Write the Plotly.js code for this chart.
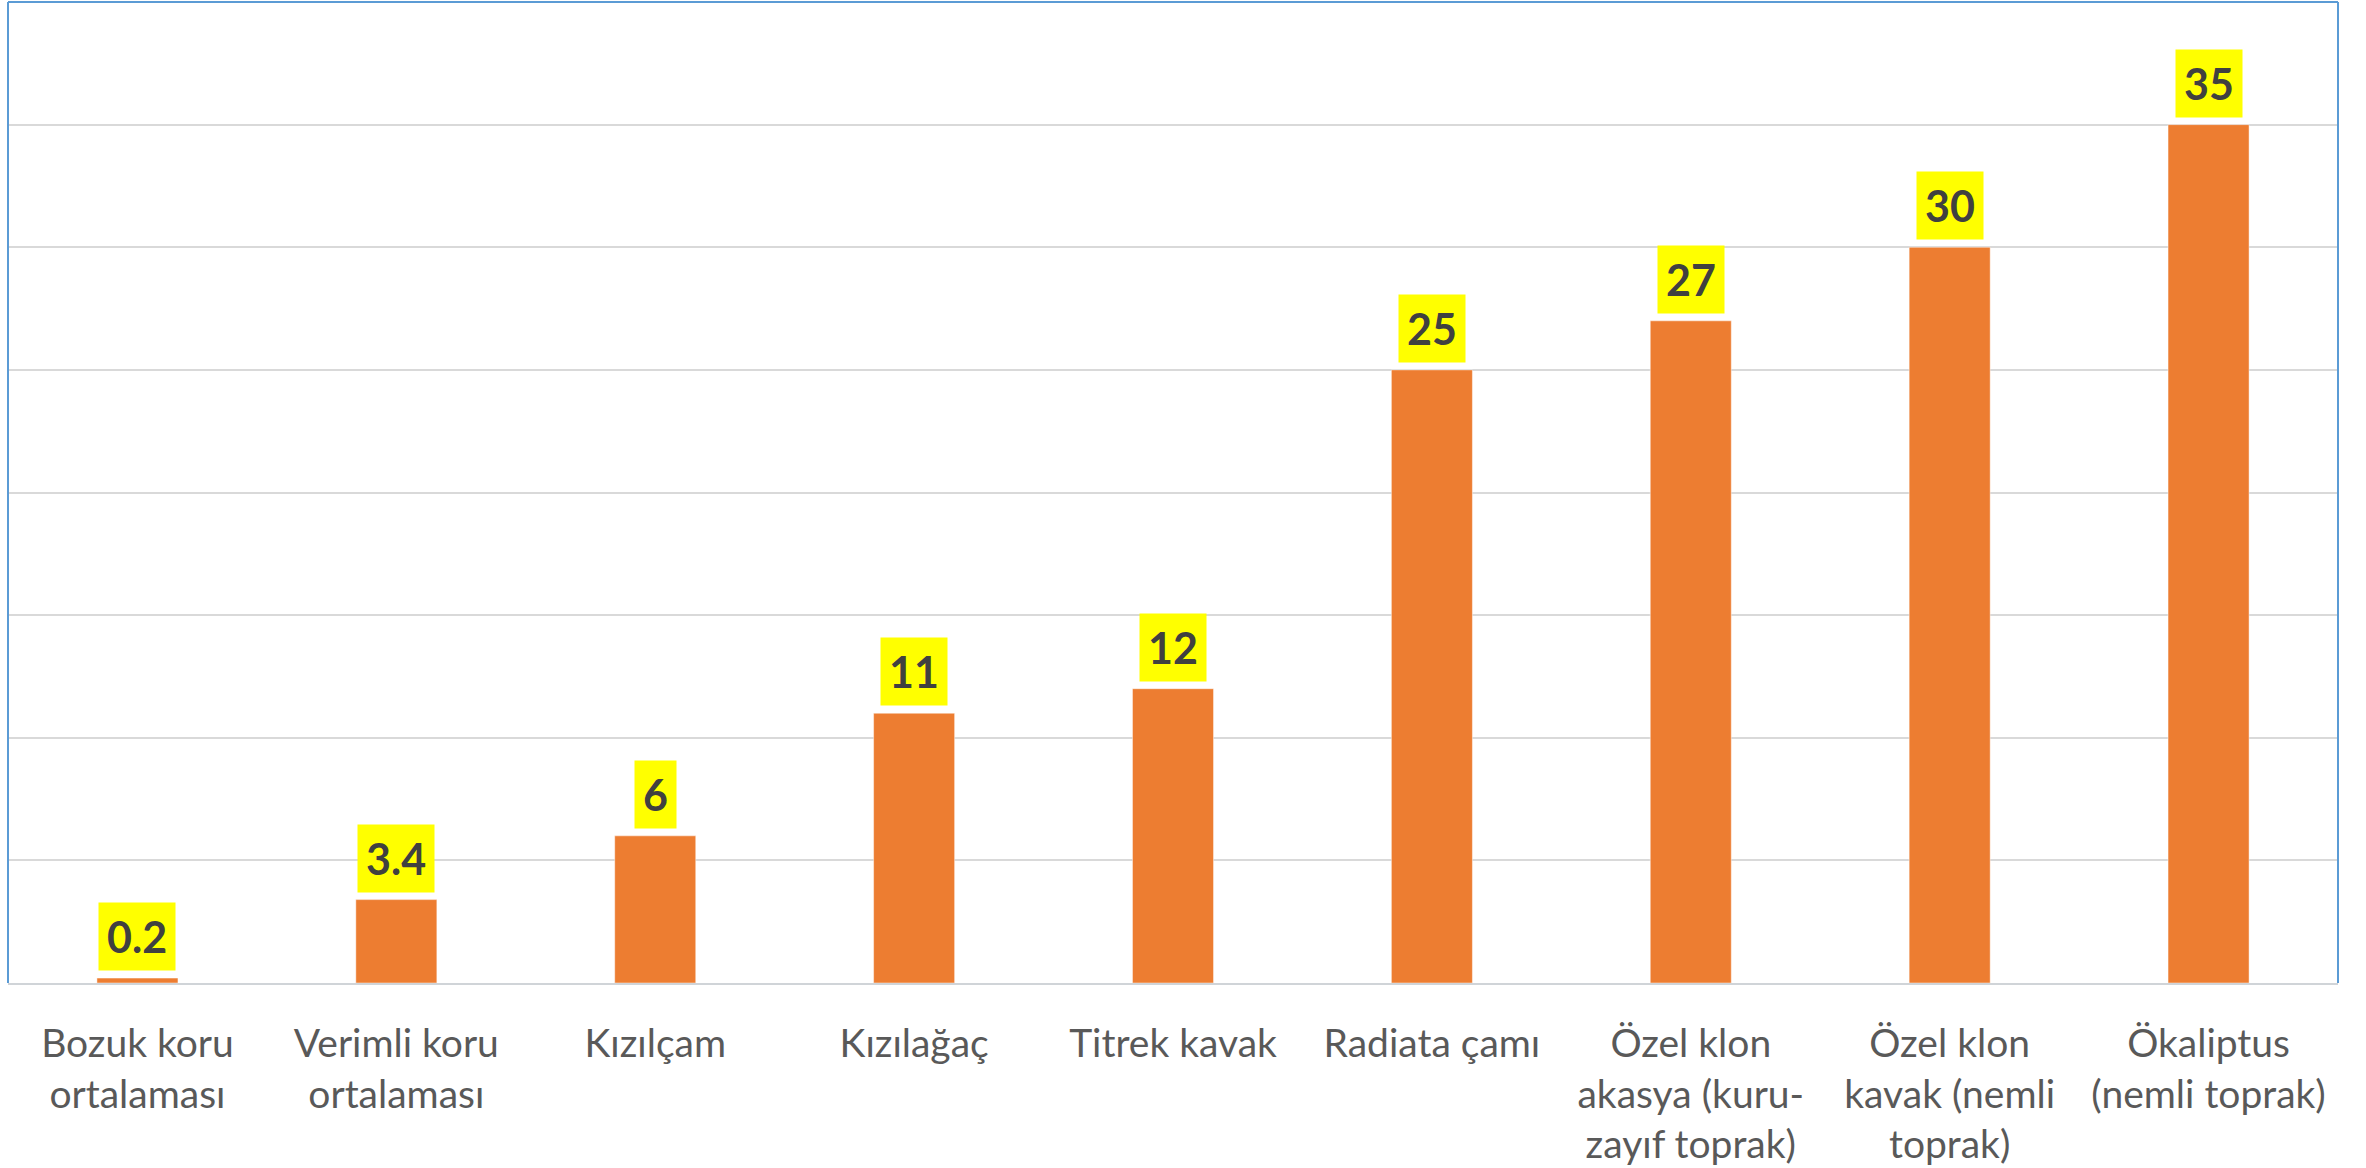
<!DOCTYPE html>
<html>
<head>
<meta charset="utf-8">
<script src="https://cdn.plot.ly/plotly-3.0.1.min.js"></script>
<style>
  html, body { margin: 0; padding: 0; background: #ffffff; }
  #chart { width: 2366px; height: 1168px; }
</style>
</head>
<body>
<div id="chart"></div>
<script>
const categories = [
  "Bozuk koru<br>ortalaması",
  "Verimli koru<br>ortalaması",
  "Kızılçam",
  "Kızılağaç",
  "Titrek kavak",
  "Radiata çamı",
  "Özel klon<br>akasya (kuru-<br>zayıf toprak)",
  "Özel klon<br>kavak (nemli<br>toprak)",
  "Ökaliptus<br>(nemli toprak)"
];
const values = [0.2, 3.4, 6, 11, 12, 25, 27, 30, 35];
const valueLabels = ["0.2", "3.4", "6", "11", "12", "25", "27", "30", "35"];
const gridTicks = [0, 5, 10, 15, 20, 25, 30, 35, 40];

const FONT = "Lato, 'Open Sans', sans-serif";

const trace = {
  type: "bar",
  x: categories,
  y: values,
  marker: { color: "#ED7D31", line: { color: "rgba(255,255,255,0.45)", width: 1 } },
  width: 0.313,
  hoverinfo: "skip"
};

const annotations = categories.map((c, i) => ({
  x: c,
  y: values[i],
  xref: "x",
  yref: "y",
  text: "<b>" + valueLabels[i] + "</b>",
  showarrow: false,
  yanchor: "bottom",
  xanchor: "center",
  yshift: 7,
  bgcolor: "#FFFF00",
  borderpad: 8,
  font: { family: FONT, size: 43, color: "#404040" }
}));

const layout = {
  width: 2366,
  height: 1168,
  margin: { l: 8, r: 28, t: 2, b: 185 },
  paper_bgcolor: "#ffffff",
  plot_bgcolor: "#ffffff",
  showlegend: false,
  bargap: 0.687,
  xaxis: {
    type: "category",
    showline: true,
    linecolor: "#D0D4D8",
    linewidth: 2,
    showgrid: false,
    zeroline: false,
    ticks: "",
    ticklabelstandoff: 25,
    tickfont: { family: FONT, size: 39, color: "#595959" }
  },
  yaxis: {
    range: [0, 40],
    tickvals: gridTicks,
    showticklabels: false,
    showgrid: true,
    gridcolor: "#D9D9D9",
    gridwidth: 2,
    zeroline: false,
    showline: false,
    ticks: ""
  },
  shapes: [
    { type: "line", xref: "paper", yref: "paper", x0: 0, x1: 0, y0: 0, y1: 1, line: { color: "#5B9BD5", width: 2 } },
    { type: "line", xref: "paper", yref: "paper", x0: 1, x1: 1, y0: 0, y1: 1, line: { color: "#5B9BD5", width: 2 } },
    { type: "line", xref: "paper", yref: "paper", x0: 0, x1: 1, y0: 1, y1: 1, line: { color: "#5B9BD5", width: 2 } }
  ],
  annotations: annotations
};

Plotly.newPlot("chart", [trace], layout, { displayModeBar: false, staticPlot: true });
</script>
</body>
</html>
